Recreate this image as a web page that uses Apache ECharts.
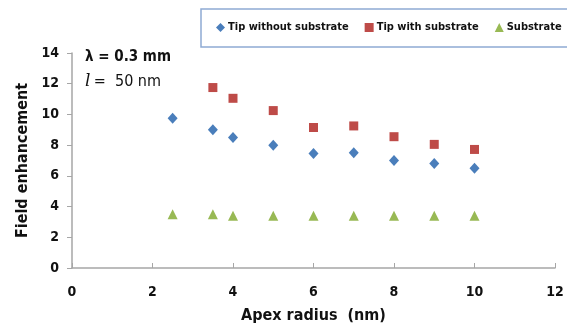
<!DOCTYPE html>
<html>
<head>
<meta charset="utf-8">
<script src="https://cdn.jsdelivr.net/npm/echarts@6/dist/echarts.min.js"></script>
<style>
  html, body { margin: 0; padding: 0; background: #fff; }
  #chart { width: 567px; height: 333px; }
</style>
</head>
<body>
<div id="chart"></div>
<script>
// Apex radius (nm) for each series
const radiusTip = [2.5, 3.5, 4, 5, 6, 7, 8, 9, 10];
const radiusTipSub = [3.5, 4, 5, 6, 7, 8, 9, 10];
const radiusSub = [2.5, 3.5, 4, 5, 6, 7, 8, 9, 10];

// Field enhancement values
const tipWithout = [9.75, 9.0, 8.5, 8.0, 7.45, 7.5, 7.0, 6.8, 6.5];
const tipWith = [11.75, 11.05, 10.25, 9.15, 9.25, 8.55, 8.05, 7.72];
const substrate = [3.5, 3.5, 3.4, 3.4, 3.4, 3.4, 3.4, 3.4, 3.4];

const xTicks = [0, 2, 4, 6, 8, 10, 12];
const yTicks = [0, 2, 4, 6, 8, 10, 12, 14];

const font = "'Liberation Sans Narrow', 'DejaVu Sans Condensed', 'Liberation Sans', sans-serif";
const colors = { tip: "#4a7ebb", tipSub: "#be4b48", sub: "#98b954", axis: "#a6a6a6" };

const zip = (xs, ys) => xs.map((x, i) => [x, ys[i]]);

const chart = echarts.init(document.getElementById("chart"));

const option = {
  animation: false,
  textStyle: { fontFamily: font },
  grid: { left: 72, right: 12, top: 53, bottom: 65 },
  legend: {
    left: 201,
    top: 9,
    width: 600,
    padding: [13, 14, 14, 15],
    borderColor: "#8eaad4",
    borderWidth: 1.5,
    itemGap: 16,
    itemWidth: 9,
    itemHeight: 9,
    textStyle: { fontFamily: font, fontWeight: "bold", fontSize: 11, color: "#111", padding: [0, 0, 0, -2] },
    data: ["Tip without substrate", "Tip with substrate", "Substrate"],
  },
  xAxis: {
    type: "value",
    min: xTicks[0],
    max: xTicks[xTicks.length - 1],
    interval: 2,
    name: "Apex radius  (nm)",
    nameLocation: "middle",
    nameGap: 40,
    nameTextStyle: { fontFamily: font, fontWeight: "bold", fontSize: 16, color: "#111" },
    axisLine: { lineStyle: { color: colors.axis, width: 1.5 } },
    axisTick: { show: true, inside: true, length: 5, lineStyle: { color: colors.axis } },
    axisLabel: { fontFamily: font, fontWeight: "bold", fontSize: 14, color: "#111", margin: 17 },
    splitLine: { show: false },
  },
  yAxis: {
    type: "value",
    min: yTicks[0],
    max: yTicks[yTicks.length - 1],
    interval: 2,
    name: "Field enhancement",
    nameLocation: "middle",
    nameGap: 40,
    nameRotate: 90,
    nameTextStyle: { fontFamily: font, fontWeight: "bold", fontSize: 16, color: "#111" },
    axisLine: { show: true, lineStyle: { color: colors.axis, width: 1.5 } },
    axisTick: { show: true, length: 5, lineStyle: { color: colors.axis } },
    axisLabel: { fontFamily: font, fontWeight: "bold", fontSize: 14, color: "#111", margin: 13 },
    splitLine: { show: false },
  },
  graphic: [
    {
      type: "text",
      left: 85,
      top: 50,
      style: { text: "λ = 0.3 mm", font: "bold 15px " + font, fill: "#111" },
    },
    {
      type: "text",
      left: 85,
      top: 73,
      style: {
        text: "{i|l} {n|=  50 nm}",
        rich: {
          i: { font: "italic 17px 'DejaVu Serif', serif", fill: "#111" },
          n: { font: "16px " + font, fill: "#111" },
        },
      },
    },
  ],
  series: [
    {
      name: "Tip without substrate",
      type: "scatter",
      symbol: "diamond",
      symbolSize: [10, 11],
      itemStyle: { color: colors.tip, opacity: 1 },
      data: zip(radiusTip, tipWithout),
    },
    {
      name: "Tip with substrate",
      type: "scatter",
      symbol: "rect",
      symbolSize: 9,
      itemStyle: { color: colors.tipSub, opacity: 1 },
      data: zip(radiusTipSub, tipWith),
    },
    {
      name: "Substrate",
      type: "scatter",
      symbol: "triangle",
      symbolSize: 10,
      itemStyle: { color: colors.sub, opacity: 1 },
      data: zip(radiusSub, substrate),
    },
  ],
};

chart.setOption(option);
</script>
</body>
</html>
